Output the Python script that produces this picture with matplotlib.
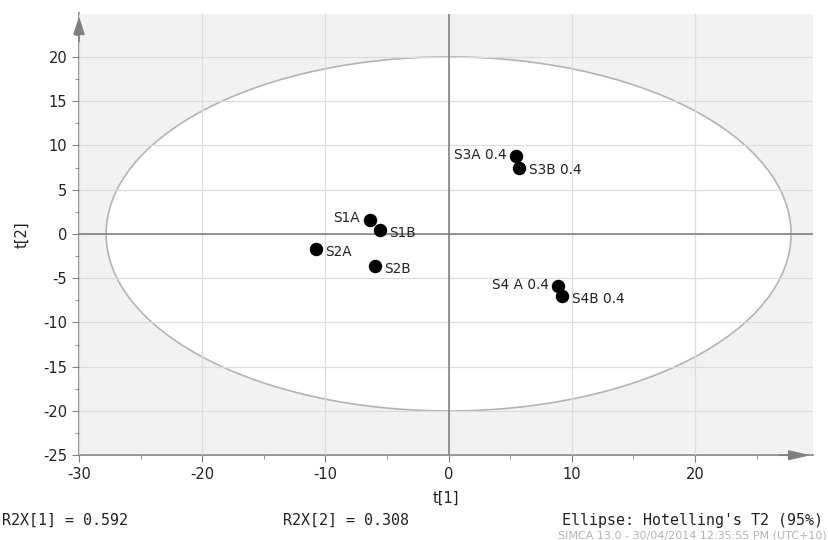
import matplotlib
matplotlib.use("Agg")
import matplotlib.pyplot as plt
from matplotlib.patches import Ellipse
from matplotlib.ticker import MultipleLocator

plt.rcParams["axes.unicode_minus"] = False

# Score values (t[1], t[2]) per sample
samples = ["S1A", "S1B", "S2A", "S2B", "S3A 0.4", "S3B 0.4", "S4 A 0.4", "S4B 0.4"]
t1 = [-6.4, -5.6, -10.8, -6.0, 5.5, 5.7, 8.9, 9.2]
t2 = [1.6, 0.45, -1.7, -3.6, 8.75, 7.5, -5.9, -7.0]
label_side = ["left", "right", "right", "right", "left", "right", "left", "right"]

# Hotelling's T2 (95%) ellipse semi-axes
ell_a, ell_b = 27.8, 20.0

r2x = [0.592, 0.308]

fig = plt.figure(figsize=(8.29, 5.40), dpi=100)
ax = fig.add_axes([0.0953, 0.157, 0.8857, 0.818])
ax.set_facecolor("#f2f2f2")
ax.set_xlim(-30, 29.6)
ax.set_ylim(-25, 24.9)

ax.xaxis.set_major_locator(MultipleLocator(10))
ax.xaxis.set_minor_locator(MultipleLocator(5))
ax.yaxis.set_major_locator(MultipleLocator(5))
ax.yaxis.set_minor_locator(MultipleLocator(2.5))

ax.add_patch(Ellipse((0, 0), 2 * ell_a, 2 * ell_b, facecolor="white",
                     edgecolor="#b4b4b4", lw=1.2, zorder=1))
ax.grid(True, which="major", color="#dcdcdc", lw=0.9, zorder=2)
ax.set_axisbelow(False)
for gl in ax.get_xgridlines() + ax.get_ygridlines():
    gl.set_zorder(2)

ax.axhline(0, color="#7a7a7a", lw=1.1, zorder=3)
ax.axvline(0, color="#7a7a7a", lw=1.1, zorder=3)

for s in ["top", "right"]:
    ax.spines[s].set_visible(False)
for s in ["left", "bottom"]:
    ax.spines[s].set_color("#808080")
    ax.spines[s].set_linewidth(1.2)

ax.tick_params(which="both", colors="#808080", labelcolor="#222222",
               labelsize=10.5, direction="out")
ax.tick_params(which="major", length=5)
ax.tick_params(which="minor", length=3)

# axis arrows
ax.annotate("", xy=(0, 1.0), xycoords="axes fraction", xytext=(0, 0.93),
            arrowprops=dict(arrowstyle="-|>,head_width=0.35,head_length=1.1",
                            color="#808080", lw=1.2), annotation_clip=False)
ax.annotate("", xy=(1.0, 0), xycoords="axes fraction", xytext=(0.95, 0),
            arrowprops=dict(arrowstyle="-|>,head_width=0.3,head_length=1.3",
                            color="#808080", lw=1.2), annotation_clip=False)

ax.scatter(t1, t2, s=75, color="black", zorder=5)
for name, x, y, side in zip(samples, t1, t2, label_side):
    if side == "right":
        ax.annotate(name, (x, y), xytext=(7, -2), textcoords="offset points",
                    ha="left", va="center", fontsize=9.8, color="#222222", zorder=6)
    else:
        ax.annotate(name, (x, y), xytext=(-7, 1), textcoords="offset points",
                    ha="right", va="center", fontsize=9.8, color="#222222", zorder=6)

ax.set_xlabel("t[1]", fontsize=10.5, color="#222222", labelpad=6)
ax.set_ylabel("t[2]", fontsize=10.5, color="#222222", labelpad=10)

mono = dict(family="DejaVu Sans Mono", fontsize=10.8, color="#222222")
fig.text(0.002, 0.036, f"R2X[1] = {r2x[0]:.3f}", ha="left", va="center", **mono)
fig.text(0.341, 0.036, f"R2X[2] = {r2x[1]:.3f}", ha="left", va="center", **mono)
fig.text(0.678, 0.036, "Ellipse: Hotelling's T2 (95%)", ha="left", va="center", **mono)
fig.text(0.673, 0.009, "SIMCA 13.0 - 30/04/2014 12:35:55 PM (UTC+10)",
         ha="left", va="center", fontsize=8, color="#b4b4b4")

fig.savefig("out.png", dpi=100)
